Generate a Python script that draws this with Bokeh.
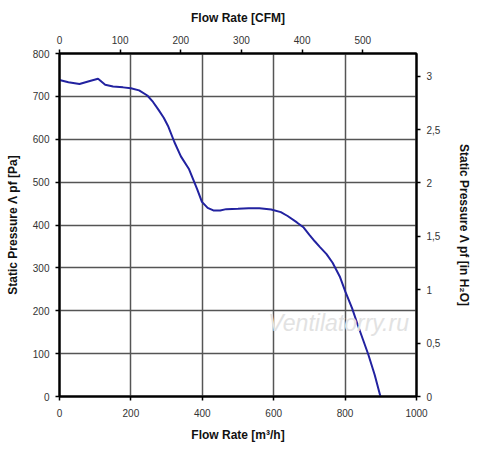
from bokeh.plotting import figure
from bokeh.models import Range1d, LinearAxis, FixedTicker, Label
from bokeh.embed import file_html
from bokeh.resources import INLINE

# data
flow_m3h = [0, 25, 56, 85, 108, 128, 150, 178, 200, 223, 246, 262, 277, 292, 304, 322, 340, 363,
            385, 399, 415, 431, 450, 467, 500, 530, 560, 593, 620, 639, 665, 684, 700, 715, 729,
            748, 765, 785, 801, 820, 835, 850, 865, 883, 899]
pressure_pa = [738, 733, 729, 736, 741, 727, 723, 721, 719, 714, 702, 687, 669, 650, 631, 593, 560, 530,
               485, 454, 440, 434, 434, 437, 438, 439, 439, 436, 430, 421, 406, 394, 377, 362, 349,
               332, 312, 280, 244, 205, 168, 133, 98, 50, 0]

bottom_ticks = [0, 200, 400, 600, 800, 1000]
left_ticks = [0, 100, 200, 300, 400, 500, 600, 700, 800]
top_ticks = [0, 100, 200, 300, 400, 500]
right_ticks = [0, 0.5, 1, 1.5, 2, 2.5, 3]
right_labels = ["0", "0,5", "1", "1,5", "2", "2,5", "3"]

M3H_PER_CFM = 1.699
PA_PER_INH2O = 249.09

FONT = "Liberation Sans"

p = figure(width=484, height=457, output_backend="svg", toolbar_location=None,
           x_range=Range1d(0, 1000), y_range=Range1d(0, 800),
           min_border_left=59, min_border_right=68, min_border_top=53, min_border_bottom=61)
p.extra_x_ranges = {"cfm": Range1d(0, 1000 / M3H_PER_CFM)}
p.extra_y_ranges = {"inh2o": Range1d(0, 800 / PA_PER_INH2O)}

p.outline_line_color = "black"
p.outline_line_width = 2
p.background_fill_color = "white"
p.border_fill_color = "white"

def style_axis(ax):
    ax.axis_line_color = "black"
    ax.axis_line_width = 2
    ax.major_tick_line_color = "black"
    ax.major_tick_line_width = 1.5
    ax.major_tick_out = 4
    ax.major_tick_in = 0
    ax.minor_tick_line_color = None
    ax.major_label_text_font = FONT
    ax.major_label_text_font_size = "10px"
    ax.major_label_text_color = "#333333"
    ax.axis_label_text_font = FONT
    ax.axis_label_text_font_size = "12px"
    ax.axis_label_text_font_style = "bold"
    ax.axis_label_text_color = "#111111"

xa = p.xaxis[0]
xa.ticker = FixedTicker(ticks=bottom_ticks)
xa.axis_label = "Flow Rate [m³/h]"
xa.major_label_standoff = 8
xa.axis_label_standoff = 8
style_axis(xa)

ya = p.yaxis[0]
ya.ticker = FixedTicker(ticks=left_ticks)
ya.axis_label = "Static Pressure Λ pf [Pa]"
ya.major_label_standoff = 6
ya.axis_label_standoff = 10
style_axis(ya)

top = LinearAxis(x_range_name="cfm", ticker=FixedTicker(ticks=top_ticks),
                 axis_label="Flow Rate [CFM]")
style_axis(top)
top.major_label_standoff = 6
top.axis_label_standoff = 8
p.add_layout(top, "above")

right = LinearAxis(y_range_name="inh2o", ticker=FixedTicker(ticks=right_ticks),
                   axis_label="Static Pressure Λ pf [in H₂O]")
right.major_label_overrides = {t: l for t, l in zip(right_ticks, right_labels)}
style_axis(right)
right.major_label_standoff = 6
right.axis_label_standoff = 14
p.add_layout(right, "right")

p.xgrid.ticker = FixedTicker(ticks=bottom_ticks)
p.ygrid.ticker = FixedTicker(ticks=left_ticks)
p.xgrid.grid_line_color = "#555555"
p.ygrid.grid_line_color = "#555555"
p.xgrid.grid_line_width = 1.5
p.ygrid.grid_line_width = 1.5

p.add_layout(Label(x=585, y=142, text="Ventilatorry.ru", text_font=FONT,
                   text_font_size="23px", text_font_style="italic",
                   text_color="#e2e2e2"))

p.line(flow_m3h, pressure_pa, line_color="#2222a0", line_width=2)

open("out.html", "w").write(file_html(p, INLINE))
